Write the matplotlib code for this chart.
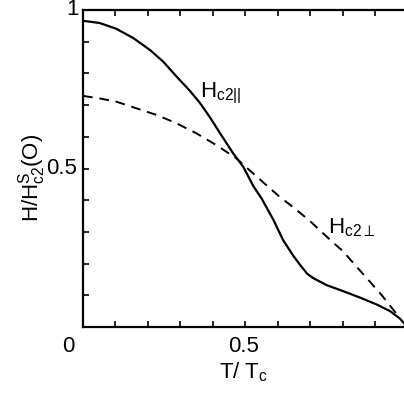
import matplotlib
matplotlib.use('Agg')
import matplotlib.pyplot as plt
import numpy as np

# solid curve: H_c2 parallel
t_par = [0.0, 0.051, 0.102, 0.154, 0.206, 0.247, 0.288, 0.329, 0.359, 0.381, 0.396, 0.422,
         0.462, 0.493, 0.524, 0.550, 0.586, 0.616, 0.647, 0.668, 0.690, 0.709, 0.75, 0.801,
         0.852, 0.904, 0.945, 0.975, 0.988]
h_par = [0.966, 0.959, 0.941, 0.912, 0.874, 0.837, 0.790, 0.745, 0.708, 0.676, 0.653, 0.611,
         0.548, 0.506, 0.445, 0.405, 0.338, 0.274, 0.225, 0.196, 0.168, 0.154, 0.132, 0.113,
         0.093, 0.071, 0.050, 0.027, 0.012]
# dashed curve: H_c2 perpendicular
t_perp = [0.0, 0.051, 0.102, 0.164, 0.226, 0.287, 0.349, 0.410, 0.472, 0.5, 0.545, 0.606,
          0.647, 0.70, 0.75, 0.801, 0.837, 0.883, 0.919, 0.96, 0.970]
h_perp = [0.729, 0.721, 0.711, 0.690, 0.669, 0.643, 0.611, 0.574, 0.532, 0.506, 0.465, 0.41,
          0.378, 0.333, 0.285, 0.238, 0.196, 0.143, 0.101, 0.048, 0.036]

plt.rcParams['font.family'] = ['Liberation Sans', 'DejaVu Sans']
fig = plt.figure(figsize=(4.04, 3.93), dpi=100)
ax = fig.add_axes([83/404, 1 - 327/393, (404 - 83)/404, (327 - 10)/393])

ax.plot(t_par, h_par, color='black', lw=1.6, solid_joinstyle='round')
ax.plot(t_perp, h_perp, color='black', lw=1.4, ls=(0, (5, 3.5)))

ax.set_xlim(0, 0.988)
ax.set_ylim(0, 1)
ax.spines['right'].set_visible(False)
for s in ['left', 'bottom', 'top']:
    ax.spines[s].set_linewidth(1.6)

ax.set_xticks(np.arange(0, 1.0, 0.1))
ax.set_yticks(np.arange(0, 1.01, 0.1))
ax.set_xticklabels([])
ax.set_yticklabels([])
ax.tick_params(direction='in', length=4, width=1.2, top=True, right=False)

fs = 16
ax.text(0.5, -0.063, '0.5', transform=ax.transAxes, ha='center', va='center', fontsize=fs)
ax.text(-0.047, -0.063, '0', transform=ax.transAxes, ha='center', va='center', fontsize=fs)
ax.text(-0.034, 1.003, '1', transform=ax.transAxes, ha='center', va='center', fontsize=fs)
ax.text(-0.066, 0.5, '0.5', transform=ax.transAxes, ha='center', va='center', fontsize=fs)

ax.text(0.5, -0.142, r'T/ T$_\mathregular{c}$', transform=ax.transAxes, ha='center', va='center', fontsize=fs)
fig.text(32/404, 1 - 178/393, r'H/H$^\mathregular{S}_\mathregular{c2}$(O)', rotation=90,
         ha='center', va='center', fontsize=fs)

ax.text(0.36, 0.725, r'H$_\mathregular{c2||}$', fontsize=fs)
ax.text(0.755, 0.295, r'H$_\mathregular{c2\perp}$', fontsize=fs)

fig.savefig('out.png', dpi=100)
